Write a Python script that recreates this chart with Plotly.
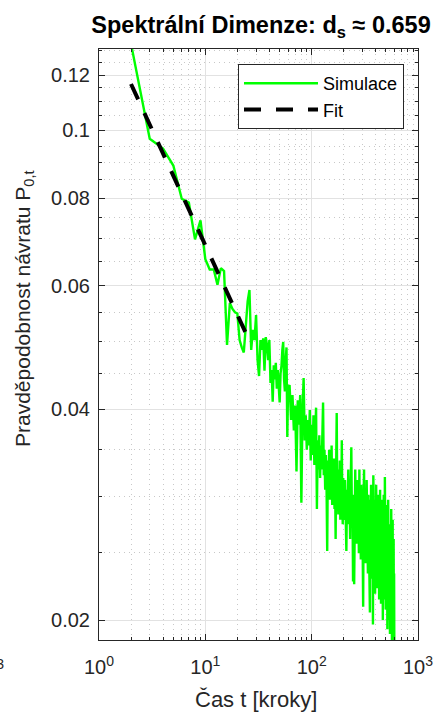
import plotly.graph_objects as go

# ---- data ----
t_early = list(range(2, 61))
p_early = [0.133, 0.0973, 0.0942, 0.0891, 0.0799, 0.0789, 0.0699, 0.0744, 0.0655, 0.0633,
           0.0633, 0.0602, 0.0636, 0.0630, 0.0494, 0.0567, 0.0556, 0.0550, 0.0548, 0.0502,
           0.0490, 0.0482, 0.0525, 0.0570, 0.0592, 0.0486, 0.0519, 0.0502, 0.0545, 0.0470,
           0.0446, 0.0502, 0.0486, 0.0505, 0.0454, 0.0507, 0.0494, 0.0470, 0.0502, 0.0436,
           0.0455, 0.0410, 0.0462, 0.0441, 0.0466, 0.0428, 0.0455, 0.0420, 0.0409, 0.0450,
           0.0461, 0.0486, 0.0499, 0.0441, 0.0424, 0.0470, 0.0490, 0.0365, 0.0428]

t_mid = list(range(62, 201, 2))
p_mid = [0.0433, 0.0386, 0.0419, 0.0373, 0.0405, 0.0326, 0.0412, 0.0380, 0.0419, 0.0294,
         0.0399, 0.0443, 0.0361, 0.0392, 0.0350, 0.0386, 0.0355, 0.0399, 0.0338, 0.0380,
         0.0344, 0.0392, 0.0333, 0.0373, 0.0402, 0.0288, 0.0361, 0.0328, 0.0367, 0.0319,
         0.0355, 0.0328, 0.0373, 0.0409, 0.0322, 0.0350, 0.0307, 0.0344, 0.0312, 0.0251,
         0.0338, 0.0302, 0.0350, 0.0297, 0.0333, 0.0307, 0.0355, 0.0292, 0.0328, 0.0297,
         0.0340, 0.0288, 0.0322, 0.0261, 0.0333, 0.0395, 0.0302, 0.0328, 0.0283, 0.0317,
         0.0292, 0.0338, 0.0278, 0.0312, 0.0288, 0.0361, 0.0297, 0.0274, 0.0319, 0.0283]

t_late = list(range(203, 600, 3))
p_late = [0.0278, 0.0317, 0.0270, 0.0251, 0.0307, 0.0283, 0.0328, 0.0274, 0.0302, 0.0261,
          0.0312, 0.0353, 0.0278, 0.0297, 0.0227, 0.0302, 0.0225, 0.0292, 0.0328, 0.0265,
          0.0307, 0.0257, 0.0317, 0.0278, 0.0292, 0.0249, 0.0328, 0.0270, 0.0297, 0.0244,
          0.0312, 0.0274, 0.0302, 0.0257, 0.0209, 0.0297, 0.0328, 0.0261, 0.0288, 0.0241,
          0.0307, 0.0270, 0.0317, 0.0253, 0.0292, 0.0233, 0.0302, 0.0265, 0.0283, 0.0244,
          0.0205, 0.0297, 0.0261, 0.0312, 0.0249, 0.0283, 0.0229, 0.0307, 0.0197, 0.0322,
          0.0257, 0.0292, 0.0237, 0.0278, 0.0218, 0.0297, 0.0253, 0.0312, 0.0241, 0.0274,
          0.0222, 0.0292, 0.0257, 0.0302, 0.0233, 0.0278, 0.0214, 0.0288, 0.0249, 0.0307,
          0.0237, 0.0270, 0.0211, 0.0283, 0.0244, 0.0297, 0.0225, 0.0265, 0.0200, 0.0288,
          0.0241, 0.0302, 0.0222, 0.0261, 0.0214, 0.0320, 0.0249, 0.0278, 0.0207, 0.0270,
          0.0233, 0.0292, 0.0218, 0.0257, 0.0194, 0.0278, 0.0229, 0.0297, 0.0211, 0.0253,
          0.0200, 0.0274, 0.0222, 0.0244, 0.0191, 0.0270, 0.0214, 0.0257, 0.0197, 0.0288,
          0.0225, 0.0261, 0.0184, 0.0249, 0.0207, 0.0278, 0.0194, 0.0241, 0.0214, 0.0261,
          0.0191, 0.0233, 0.0181]

sim_t = t_early + t_mid + t_late
sim_p = p_early + p_mid + p_late

fit_t = [2, 25]
fit_p = [0.1165, 0.0507]

x_tickvals = [1, 10, 100, 1000]
x_ticktext = ["10<sup>0</sup>", "10<sup>1</sup>", "10<sup>2</sup>", "10<sup>3</sup>"]
x_minor = [2, 3, 4, 5, 6, 7, 8, 9, 20, 30, 40, 50, 60, 70, 80, 90,
           200, 300, 400, 500, 600, 700, 800, 900]
y_tickvals = [0.02, 0.04, 0.06, 0.08, 0.1, 0.12]
y_ticktext = ["0.02", "0.04", "0.06", "0.08", "0.1", "0.12"]
y_minor = [0.025, 0.03, 0.035, 0.045, 0.05, 0.055, 0.065, 0.07, 0.075,
           0.085, 0.09, 0.095, 0.105, 0.11, 0.115, 0.125, 0.13]

title_text = "Spektrální Dimenze: d<sub>s</sub> ≈ 0.659"
x_title = "Čas t [kroky]"
y_title = "Pravděpodobnost návratu P<sub>0,t</sub>"

FONT = "Liberation Sans, Arial, Helvetica, sans-serif"
AX = "#262626"

# plot-area geometry (pixels)
L, R, T, B = 99, 18, 49, 73
W, H = 436, 713
PW, PH = W - L - R, H - T - B

fig = go.Figure()
fig.add_trace(go.Scatter(x=sim_t, y=sim_p, mode="lines", name="Simulace",
                         line=dict(color="#00ff00", width=2.4)))
fig.add_trace(go.Scatter(x=fit_t, y=fit_p, mode="lines", name="Fit",
                         line=dict(color="black", width=4, dash="17px,15px")))

axis_common = dict(
    showline=True, linecolor=AX, linewidth=1, mirror="ticks",
    ticks="inside", tickcolor=AX, tickwidth=1,
    showgrid=True, gridcolor="#e2e2e2", gridwidth=1,
    zeroline=False, automargin=False,
    tickfont=dict(family=FONT, size=20, color=AX),
)
minor_common = dict(tickmode="array", ticks="inside", ticklen=3, tickcolor=AX,
                    showgrid=True, gridcolor="#c8c8c8", griddash="1px,4px", gridwidth=1)

fig.update_xaxes(
    type="log", range=[0, 3],
    tickmode="array", tickvals=x_tickvals, ticktext=x_ticktext, ticklen=6,
    ticklabelstandoff=9,
    minor=dict(tickvals=x_minor, **minor_common),
    **axis_common,
)
fig.update_yaxes(
    type="log", range=[-1.7275, -0.8837],
    tickmode="array", tickvals=y_tickvals, ticktext=y_ticktext, ticklen=6,
    ticklabelstandoff=4,
    minor=dict(tickvals=y_minor, **minor_common),
    **axis_common,
)

# axis titles
fig.add_annotation(text=x_title, xref="paper", yref="paper",
                   x=(256 - L) / PW, y=(H - B - 699) / PH, xanchor="center", yanchor="middle",
                   showarrow=False, font=dict(family=FONT, size=22, color=AX))
fig.add_annotation(text=y_title, xref="paper", yref="paper", textangle=-90,
                   x=(24 - L) / PW, y=(H - B - 309) / PH, xanchor="center", yanchor="middle",
                   showarrow=False, font=dict(family=FONT, size=21, color=AX))
# fragment of a neighbouring panel's tick label, cut at the left edge
fig.add_annotation(text="10<sup>3</sup>", xref="paper", yref="paper",
                   x=(6 - L) / PW, y=(H - B - 668) / PH, xanchor="right", yanchor="middle",
                   showarrow=False, font=dict(family=FONT, size=20, color=AX))

fig.update_layout(
    width=W, height=H,
    margin=dict(l=L, r=R, t=T, b=B, autoexpand=False),
    paper_bgcolor="white", plot_bgcolor="white",
    title=dict(text=title_text, x=261 / W, xanchor="center", y=1 - 25 / H, yanchor="middle",
               font=dict(family=FONT, size=23.5, color="black", weight="bold")),
    legend=dict(x=(404 - L) / PW, y=(H - B - 64) / PH, xanchor="right", yanchor="top",
                bgcolor="white", bordercolor=AX, borderwidth=1,
                font=dict(family=FONT, size=18, color="black"),
                itemwidth=74, tracegroupgap=0),
    showlegend=True,
)

fig.write_html("out.html", config={"displayModeBar": False},
               post_script="document.body.style.margin='0px';")
